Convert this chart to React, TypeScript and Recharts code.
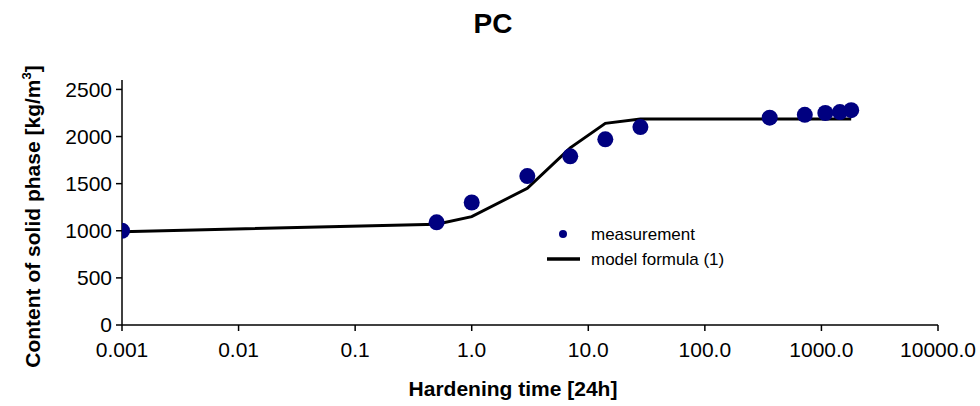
import React from "react";
import { ComposedChart, Line, Scatter, XAxis, YAxis } from "recharts";

// hardening time [24h] (log axis)
const times = [0.001, 0.5, 1, 3, 7, 14, 28, 360, 720, 1080, 1440, 1800];
// measured content of solid phase [kg/m3]
const measured = [1000, 1090, 1300, 1580, 1790, 1970, 2100, 2200, 2230, 2250, 2260, 2280];
// model formula (1)
const model = [990, 1070, 1150, 1450, 1880, 2140, 2185, 2185, 2185, 2185, 2185, 2185];

const xTicks = [0.001, 0.01, 0.1, 1, 10, 100, 1000, 10000];
const yTicks = [0, 500, 1000, 1500, 2000, 2500];

const FONT = '"Liberation Sans", Arial, sans-serif';
const NAVY = "#000080";

const chartData = times.map((t, i) => ({
  t,
  measured: measured[i],
  model: model[i],
}));

const formatX = (v: number) => (v >= 1 ? v.toFixed(1) : String(v));

const Dot = (props: any) => {
  const { cx, cy } = props;
  if (cx == null || cy == null) return null;
  return <circle cx={cx} cy={cy} r={8} fill={NAVY} />;
};

const YLabel = (props: any) => {
  const { viewBox } = props;
  const cy = viewBox.y + viewBox.height / 2 + 14;
  return (
    <text
      x={40}
      y={cy}
      transform={`rotate(-90, 40, ${cy})`}
      textAnchor="middle"
      fontFamily={FONT}
      fontWeight="bold"
      fontSize={21}
      fill="#000"
    >
      Content of solid phase [kg/m
      <tspan fontSize={13} dy={-9}>
        3
      </tspan>
      <tspan dy={9}>]</tspan>
    </text>
  );
};

const XLabel = () => (
  <text
    x={513}
    y={396}
    textAnchor="middle"
    fontFamily={FONT}
    fontWeight="bold"
    fontSize={21}
    fill="#000"
  >
    Hardening time [24h]
  </text>
);

// legend drawn as an overlay so it doesn't eat plot space
const LegendBox = () => (
  <svg
    width={200}
    height={50}
    style={{ position: "absolute", left: 540, top: 222, display: "block" }}
  >
    <circle cx={23} cy={12} r={4} fill={NAVY} />
    <text x={51} y={18} fontFamily={FONT} fontSize={17} fill="#000">
      measurement
    </text>
    <line x1={7} y1={37} x2={40} y2={37} stroke="#000" strokeWidth={3.5} />
    <text x={51} y={43} fontFamily={FONT} fontSize={17} fill="#000">
      model formula (1)
    </text>
  </svg>
);

export default function App() {
  return (
    <div style={{ position: "absolute", left: 0, top: 0, width: 980, height: 406, background: "#fff" }}>
      <div
        style={{
          position: "absolute",
          left: 0,
          width: 986,
          top: 8,
          textAlign: "center",
          fontFamily: FONT,
          fontWeight: "bold",
          fontSize: 28,
          lineHeight: "32px",
        }}
      >
        PC
      </div>
      <ComposedChart
        width={980}
        height={406}
        data={chartData}
        margin={{ top: 80, right: 42, left: 0, bottom: 0 }}
      >
        <XAxis
          dataKey="t"
          type="number"
          scale="log"
          domain={[0.001, 10000]}
          allowDataOverflow
          ticks={xTicks}
          tickFormatter={formatX}
          height={81}
          tickSize={6}
          tickMargin={11}
          stroke="#000"
          strokeWidth={1.5}
          tick={{ fill: "#000", fontSize: 21, fontFamily: FONT }}
          label={<XLabel />}
        />
        <YAxis
          type="number"
          domain={[0, 2600]}
          ticks={yTicks}
          width={122}
          tickSize={6}
          tickMargin={4}
          stroke="#000"
          strokeWidth={1.5}
          tick={{ fill: "#000", fontSize: 21, fontFamily: FONT }}
          label={<YLabel />}
        />
        <Line
          dataKey="model"
          type="linear"
          stroke="#000"
          strokeWidth={3}
          dot={false}
          activeDot={false}
          isAnimationActive={false}
        />
        <Scatter
          dataKey="measured"
          fill={NAVY}
          shape={<Dot />}
          isAnimationActive={false}
        />
      </ComposedChart>
      <LegendBox />
    </div>
  );
}
